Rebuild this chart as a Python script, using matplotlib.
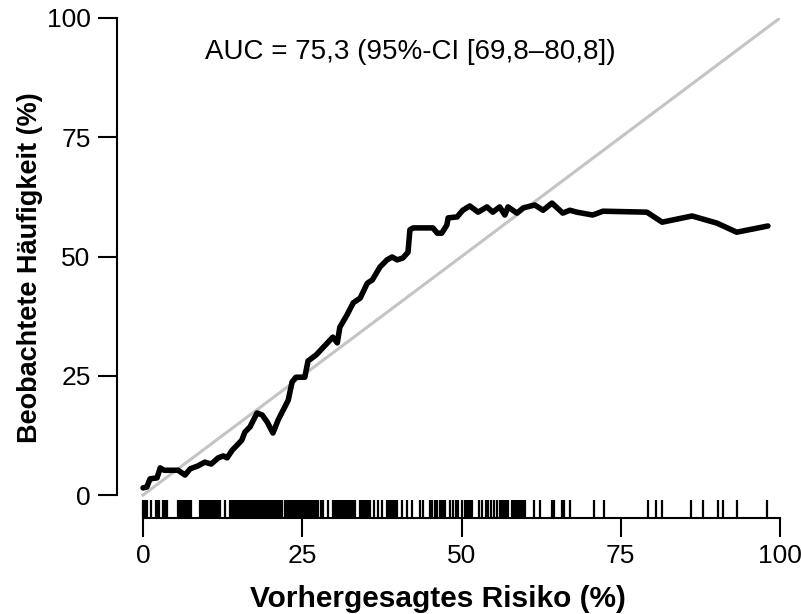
import matplotlib
matplotlib.use("Agg")
import matplotlib.pyplot as plt

plt.rcParams['font.family'] = ['Liberation Sans', 'DejaVu Sans']

# Calibration curve: predicted risk (%) vs. observed frequency (%)
pred_risk = [0.0, 0.6, 1.1, 2.2, 2.7, 3.3, 5.5, 6.6, 7.4, 8.6, 9.7, 10.7, 11.8,
             12.6, 13.2, 14.0, 14.8, 15.5, 16.0, 16.8, 17.9, 18.7, 19.5, 20.4,
             21.2, 22.0, 22.8, 23.4, 24.0, 25.4, 25.9, 27.2, 28.6, 29.8, 30.5,
             30.9, 32.0, 33.0, 34.1, 35.2, 36.0, 37.2, 38.3, 39.1, 39.9, 40.8,
             41.6, 41.9, 42.4, 45.5, 46.2, 46.9, 47.7, 47.9, 49.3, 50.2, 51.3,
             52.6, 54.0, 54.9, 56.0, 56.8, 57.3, 58.7, 59.7, 61.5, 62.8, 64.2,
             65.9, 67.0, 68.1, 70.6, 72.2, 79.1, 81.5, 86.2, 90.1, 93.2, 98.1]
observed = [1.5, 1.7, 3.4, 3.6, 5.7, 5.2, 5.2, 4.2, 5.5, 6.1, 6.9, 6.5, 7.8,
            8.2, 7.8, 9.4, 10.5, 11.5, 13.2, 14.3, 17.2, 16.8, 15.3, 13.0,
            15.7, 17.8, 19.9, 23.7, 24.7, 24.7, 28.1, 29.4, 31.4, 33.1, 31.9,
            35.2, 37.7, 40.3, 41.3, 44.4, 45.1, 47.8, 49.3, 49.9, 49.3, 49.7,
            50.9, 55.6, 56.0, 56.0, 54.9, 54.9, 56.6, 58.1, 58.3, 59.7, 60.6,
            59.3, 60.4, 59.3, 60.4, 58.7, 60.4, 59.1, 60.2, 60.8, 59.7, 61.2,
            59.1, 59.7, 59.3, 58.7, 59.5, 59.3, 57.2, 58.5, 57.0, 55.1, 56.4]

# Individual predicted risks shown as a rug along the x axis
rug = [0.0, 0.3, 0.7, 1.2, 2.1, 2.3, 2.5, 3.2, 3.4, 3.7,
       5.5, 5.7, 5.9, 6.1, 6.3, 6.5, 6.7, 6.9, 7.1, 7.3, 7.6,
       8.9, 9.1, 9.3, 9.5, 9.8, 10.0, 10.2, 10.5, 10.7, 10.9, 11.1, 11.4,
       11.6, 11.8, 12.1, 12.9, 13.7, 13.9, 14.2, 14.4, 14.7,
       15.0, 15.2, 15.4, 15.6, 15.8, 16.0, 16.2, 16.4, 16.6, 16.8, 17.0,
       17.2, 17.4, 17.6, 17.8, 18.0, 18.2, 18.4, 18.6, 18.8, 19.0, 19.2,
       19.4, 19.6, 19.8, 20.0, 20.2, 20.4, 20.6, 20.8, 21.0, 21.2, 21.4,
       21.6, 21.8,
       22.3, 22.5, 22.7, 22.9, 23.1, 23.3, 23.5, 23.7, 23.9, 24.1, 24.3,
       24.5, 24.7, 24.9, 25.1, 25.3, 25.5, 25.7, 25.9, 26.1, 26.3, 26.5,
       26.7, 26.9, 27.1, 27.3, 27.5,
       27.9, 28.3, 29.1,
       29.9, 30.1, 30.3, 30.5, 30.7, 31.0, 31.2, 31.4, 31.7, 31.9, 32.1,
       32.3, 32.6, 32.8, 33.0, 33.3,
       34.1, 34.3, 34.6, 34.8, 35.1, 35.3, 35.6, 36.2, 36.9, 37.5,
       38.3, 38.5, 38.8, 39.0, 39.3, 39.5, 39.8,
       40.6, 41.4, 42.2, 43.5, 44.0, 45.1, 45.4, 45.8, 46.1,
       46.6, 46.9, 47.2, 47.4, 48.2, 48.7, 49.1, 49.5, 50.0,
       50.5, 50.7, 50.9, 51.1, 51.3, 51.6,
       52.8, 53.2, 53.8, 54.2, 54.6, 55.1, 55.5,
       56.0, 56.3, 56.6, 57.0, 57.3,
       58.0, 58.2, 58.5, 58.7, 59.0, 59.2, 59.5, 59.7, 60.0,
       61.4, 62.3, 64.2, 64.5, 65.7, 66.1, 67.1, 70.8, 72.3, 79.2, 80.5,
       81.4, 86.1, 87.9, 90.3, 91.1, 93.2, 98.0]

ticks = [0, 25, 50, 75, 100]
auc_text = "AUC = 75,3 (95%-CI [69,8\u201380,8])"

fig = plt.figure(figsize=(8.01, 6.14), dpi=100)
ax = fig.add_axes([0.1461, 0.1564, 0.8277, 0.8143])

ax.plot([0, 100], [0, 100], color='#c4c4c4', lw=2.2, zorder=1)
ax.plot(pred_risk, observed, color='black', lw=4.0, solid_joinstyle='round',
        solid_capstyle='round', zorder=3)
ax.vlines(rug, -4.7, -1.05, color='black', lw=1.6, zorder=2)

ax.text(41.9, 92.8, auc_text, ha='center', va='center', fontsize=20)

ax.set_xlim(-4.08, 100)
ax.set_ylim(-4.8, 100)

for side in ('top', 'right'):
    ax.spines[side].set_visible(False)
for side in ('left', 'bottom'):
    ax.spines[side].set_linewidth(1.5)
ax.spines['left'].set_bounds(0, 100)
ax.spines['bottom'].set_bounds(0, 100)

ax.set_xticks(ticks)
ax.set_yticks(ticks)
ax.tick_params(direction='out', length=14, width=1.5, labelsize=19)
ax.tick_params(axis='x', pad=5)
ax.tick_params(axis='y', pad=5)

ax.set_xlabel("Vorhergesagtes Risiko (%)", fontsize=21.5, fontweight='bold')
ax.xaxis.set_label_coords(0.484, -0.135)
ax.set_ylabel("Beobachtete H\u00e4ufigkeit (%)", fontsize=19.5, fontweight='bold',
              labelpad=3)

fig.savefig("out.png", dpi=100)
